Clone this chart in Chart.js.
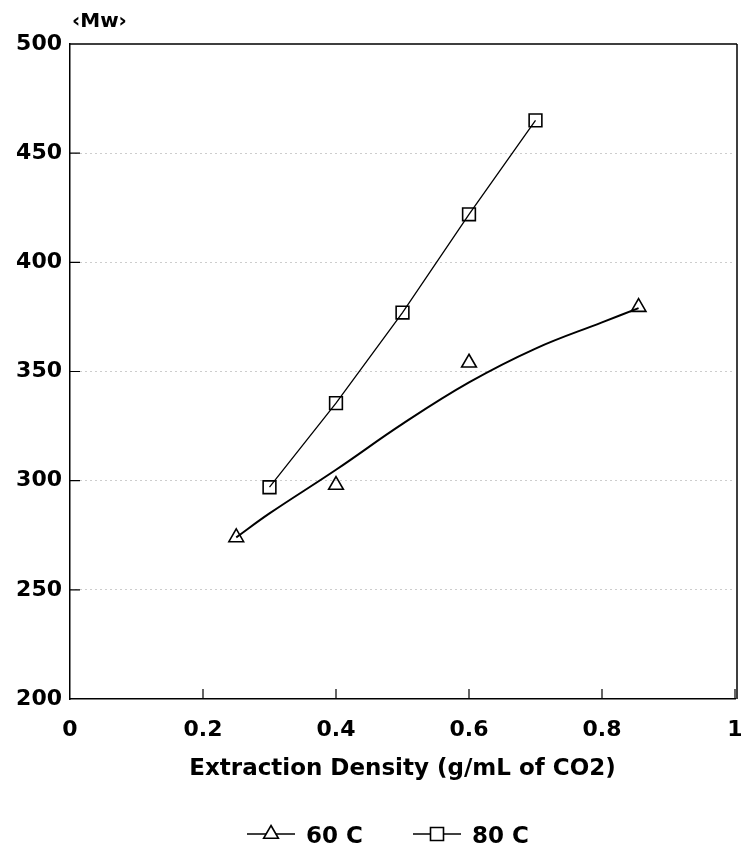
<!DOCTYPE html>
<html>
<head>
<meta charset="utf-8">
<script src="https://cdn.jsdelivr.net/npm/chart.js@4/dist/chart.umd.min.js"></script>
<style>
  html, body { margin: 0; padding: 0; background: #fff; }
  #c { display: block; }
</style>
</head>
<body>
<canvas id="c" width="741" height="853" style="width:741px;height:853px"></canvas>
<script>
// ---- data ----
const seriesNames = ['60 C', '80 C'];
const yAxisLabel = '\u2039Mw\u203A';
const xAxisTitle = 'Extraction Density (g/mL of CO2)';
const xTicks = [0, 0.2, 0.4, 0.6, 0.8, 1];
const yTicks = [200, 250, 300, 350, 400, 450, 500];

const x60 = [0.25, 0.4, 0.6, 0.855];
const y60 = [274, 298, 354, 379.5];
// smooth fitted curve drawn through the 60 C points
const fitX60 = [0.25, 0.3, 0.4, 0.5, 0.6, 0.7, 0.8, 0.855];
const fitY60 = [274, 285, 305, 326, 345, 360.5, 372.5, 379];

const x80 = [0.3, 0.4, 0.5, 0.6, 0.7];
const y80 = [297, 335.5, 377, 422, 465];

const FONT = '"DejaVu Sans", sans-serif';
const toPts = (xs, ys) => xs.map((x, i) => ({ x: x, y: ys[i] }));

const framePlugin = {
  id: 'frame',
  afterDraw(chart) {
    const ctx = chart.ctx;
    const a = chart.chartArea;
    const xs = chart.scales.x, ys = chart.scales.y;
    ctx.save();
    ctx.strokeStyle = '#000';
    ctx.lineWidth = 1.5;
    // top and right borders
    ctx.beginPath();
    ctx.moveTo(a.left, a.top); ctx.lineTo(a.right + 2, a.top);
    ctx.moveTo(a.right + 2, a.top); ctx.lineTo(a.right + 2, a.bottom);
    ctx.stroke();
    // inward ticks
    ctx.lineWidth = 1.2;
    ctx.beginPath();
    yTicks.forEach(v => {
      if (v === yTicks[0] || v === yTicks[yTicks.length - 1]) return;
      const py = ys.getPixelForValue(v);
      ctx.moveTo(a.left, py); ctx.lineTo(a.left + 10, py);
    });
    xTicks.forEach(v => {
      if (v === xTicks[0]) return;
      const px = xs.getPixelForValue(v);
      ctx.moveTo(px, a.bottom); ctx.lineTo(px, a.bottom - 10);
    });
    ctx.stroke();
    // y axis label
    ctx.fillStyle = '#000';
    ctx.font = 'bold 20px ' + FONT;
    ctx.textAlign = 'left';
    ctx.textBaseline = 'middle';
    ctx.fillText(yAxisLabel, a.left + 2, 22);
    // x axis title
    ctx.font = 'bold 23px ' + FONT;
    ctx.textAlign = 'center';
    ctx.textBaseline = 'alphabetic';
    ctx.fillText(xAxisTitle, (a.left + a.right) / 2, 775);
    // legend
    const ly = 834;
    const items = [
      { x0: 247, x1: 295, style: 'triangle', label: seriesNames[0], tx: 306 },
      { x0: 413, x1: 461, style: 'rect', label: seriesNames[1], tx: 472 }
    ];
    items.forEach(it => {
      ctx.lineWidth = 1.3;
      ctx.beginPath();
      ctx.moveTo(it.x0, ly); ctx.lineTo(it.x1, ly);
      ctx.stroke();
      const cx = (it.x0 + it.x1) / 2;
      ctx.lineWidth = 1.6;
      ctx.beginPath();
      if (it.style === 'triangle') {
        const r = 8.5;
        ctx.moveTo(cx, ly - r);
        ctx.lineTo(cx + r * Math.sin(2 * Math.PI / 3), ly - r * Math.cos(2 * Math.PI / 3));
        ctx.lineTo(cx + r * Math.sin(4 * Math.PI / 3), ly - r * Math.cos(4 * Math.PI / 3));
        ctx.closePath();
      } else {
        const s = 6.5;
        ctx.rect(cx - s, ly - s, 2 * s, 2 * s);
      }
      ctx.fillStyle = '#fff';
      ctx.fill();
      ctx.stroke();
      ctx.fillStyle = '#000';
      ctx.font = 'bold 23px ' + FONT;
      ctx.textAlign = 'left';
      ctx.textBaseline = 'middle';
      ctx.fillText(it.label, it.tx, ly + 3);
    });
    ctx.restore();
  }
};

new Chart(document.getElementById('c'), {
  type: 'scatter',
  data: {
    datasets: [
      {
        label: seriesNames[0] + ' fit',
        data: toPts(fitX60, fitY60),
        showLine: true,
        borderColor: '#000',
        borderWidth: 2,
        pointRadius: 0,
        tension: 0.4,
        fill: false
      },
      {
        label: seriesNames[0],
        data: toPts(x60, y60),
        showLine: false,
        pointStyle: 'triangle',
        pointRadius: 8.5,
        pointBorderColor: '#000',
        pointBackgroundColor: 'rgba(255,255,255,0)',
        pointBorderWidth: 1.6
      },
      {
        label: seriesNames[1],
        data: toPts(x80, y80),
        showLine: true,
        borderColor: '#000',
        borderWidth: 1.3,
        tension: 0,
        pointStyle: 'rect',
        pointRadius: 9,
        pointBorderColor: '#000',
        pointBackgroundColor: 'rgba(255,255,255,0)',
        pointBorderWidth: 1.6,
        fill: false
      }
    ]
  },
  options: {
    responsive: false,
    animation: false,
    events: [],
    layout: { autoPadding: false, padding: { left: 0, right: 6, top: 44, bottom: 0 } },
    plugins: { legend: { display: false }, tooltip: { enabled: false } },
    scales: {
      x: {
        type: 'linear',
        min: 0, max: 1,
        afterBuildTicks: s => { s.ticks = xTicks.map(v => ({ value: v })); },
        afterFit: s => { s.height = 154; s.paddingLeft = 0; s.paddingRight = 0; },
        grid: { display: false, drawTicks: false },
        border: { display: true, color: '#000', width: 1.5 },
        ticks: {
          padding: 18,
          color: '#000',
          font: { family: FONT, size: 22, weight: 'bold' },
          maxRotation: 0,
          callback: v => String(v)
        }
      },
      y: {
        type: 'linear',
        min: 200, max: 500,
        afterBuildTicks: s => { s.ticks = yTicks.map(v => ({ value: v })); },
        afterFit: s => { s.width = 70; },
        grid: {
          drawTicks: false,
          lineWidth: 1,
          color: c => (c.tick && (c.tick.value === 200 || c.tick.value === 500)) ? 'rgba(0,0,0,0)' : '#9a9a9a'
        },
        border: { display: true, color: '#000', width: 1.5, dash: [1, 4] },
        ticks: {
          padding: 8,
          color: '#000',
          font: { family: FONT, size: 22, weight: 'bold' },
          callback: v => String(v)
        }
      }
    }
  },
  plugins: [framePlugin]
});
</script>
</body>
</html>
